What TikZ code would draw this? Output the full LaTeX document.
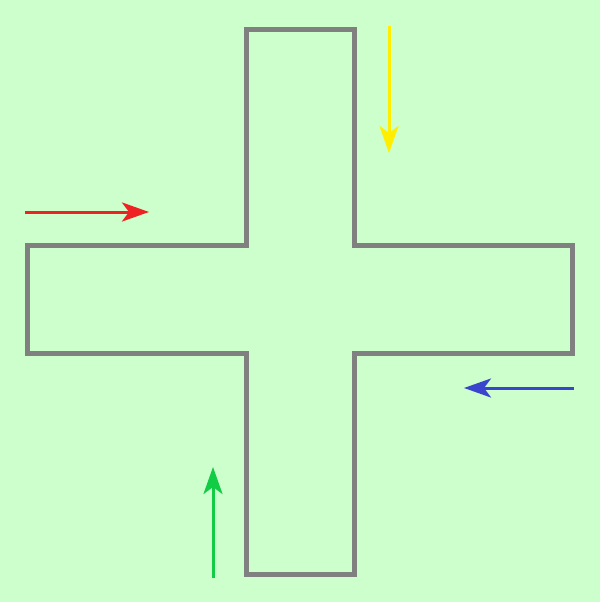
\documentclass[tikz,border=0pt]{standalone}
\usetikzlibrary{arrows.meta}
\definecolor{bg}{HTML}{CCFFCC}
\definecolor{wall}{HTML}{808080}
\definecolor{cred}{HTML}{EE2222}
\definecolor{cyellow}{HTML}{FFEE00}
\definecolor{cblue}{HTML}{3A44CC}
\definecolor{cgreen}{HTML}{11CC44}
\tikzset{flow/.style={line width=3pt,-{Stealth[length=27pt,width=19pt,inset=7pt]}}}
\begin{document}
\begin{tikzpicture}[x=1pt,y=-1pt]
\fill[bg] (0,0) rectangle (600,602);
\useasboundingbox (0,0) rectangle (600,602);
\draw[wall,line width=5pt] (246,30) -- (354,30) -- (354,245) -- (572,245) -- (572,353) -- (354,353) -- (354,574) -- (246,574) -- (246,353) -- (27,353) -- (27,245) -- (246,245) -- cycle;
\coordinate (rs) at (25,212); \coordinate (re) at (149,212);
\coordinate (ys) at (389,26); \coordinate (ye) at (389,153);
\coordinate (bs) at (574,388); \coordinate (be) at (464,388);
\coordinate (gs) at (213,578); \coordinate (ge) at (213,467);
\draw[flow,cred] (rs) -- (re);
\draw[flow,cyellow] (ys) -- (ye);
\draw[flow,cblue] (bs) -- (be);
\draw[flow,cgreen] (gs) -- (ge);
\end{tikzpicture}
\end{document}
